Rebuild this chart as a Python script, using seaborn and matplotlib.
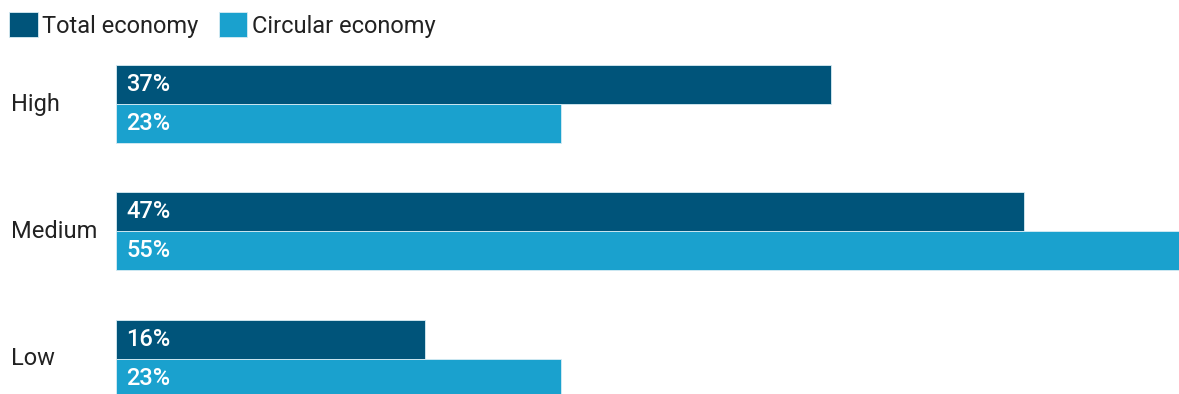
import matplotlib
matplotlib.use("Agg")
import matplotlib.pyplot as plt
import matplotlib.transforms as mtransforms
import pandas as pd
import seaborn as sns

# Share of employment by skill level
levels = ["High", "Medium", "Low"]
total_economy = [37, 47, 16]
circular_economy = [23, 55, 23]
series_names = ["Total economy", "Circular economy"]
colors = ["#00547a", "#1aa1ce"]

df = pd.DataFrame({
    "level": levels * 2,
    "share": total_economy + circular_economy,
    "series": [series_names[0]] * 3 + [series_names[1]] * 3,
})

sns.set_theme(style="white")
plt.rcParams["font.family"] = ["Roboto", "DejaVu Sans"]

W, H, DPI = 1179, 394, 100
FS = 17
fig = plt.figure(figsize=(W / DPI, H / DPI), dpi=DPI)
ax = fig.add_axes([116 / W, 0, 1 - 116 / W, 1])

sns.barplot(
    data=df, x="share", y="level", hue="series", order=levels,
    hue_order=series_names, palette=colors, orient="h", width=0.612,
    saturation=1, edgecolor="#d8ecf4", linewidth=0.6, ax=ax,
)

ax.set_xlim(0, 55)
ax.set_ylim(2.275, -0.816)
ax.set_xlabel("")
ax.set_ylabel("")
ax.set_xticks([])
ax.set_yticks([])
for s in ax.spines.values():
    s.set_visible(False)

# value labels inside the bars, at their base
for container, vals in zip(ax.containers, [total_economy, circular_economy]):
    for patch, v in zip(container.patches, vals):
        ax.annotate(f"{v}%", xy=(0, patch.get_y() + patch.get_height() / 2),
                    xytext=(7.2, 0), textcoords="offset points",
                    ha="left", va="center", color="white", fontsize=FS,
                    fontweight="medium")

# category labels at the far left of the figure
trans = mtransforms.blended_transform_factory(fig.transFigure, ax.transData)
for i, lab in enumerate(levels):
    ax.text(11 / W, i, lab, transform=trans, ha="left", va="center",
            fontsize=FS, color="#222222")

sns.move_legend(
    ax, loc="upper left", bbox_to_anchor=(0, 1 - 3 / H), bbox_transform=fig.transFigure,
    ncol=2, frameon=False, title=None, fontsize=FS, handlelength=1.2,
    handleheight=1.2, handletextpad=0.2, columnspacing=0.85, borderaxespad=0.1,
    borderpad=0.3,
)
for t in ax.get_legend().get_texts():
    t.set_color("#222222")

fig.savefig("out.png", dpi=DPI)
